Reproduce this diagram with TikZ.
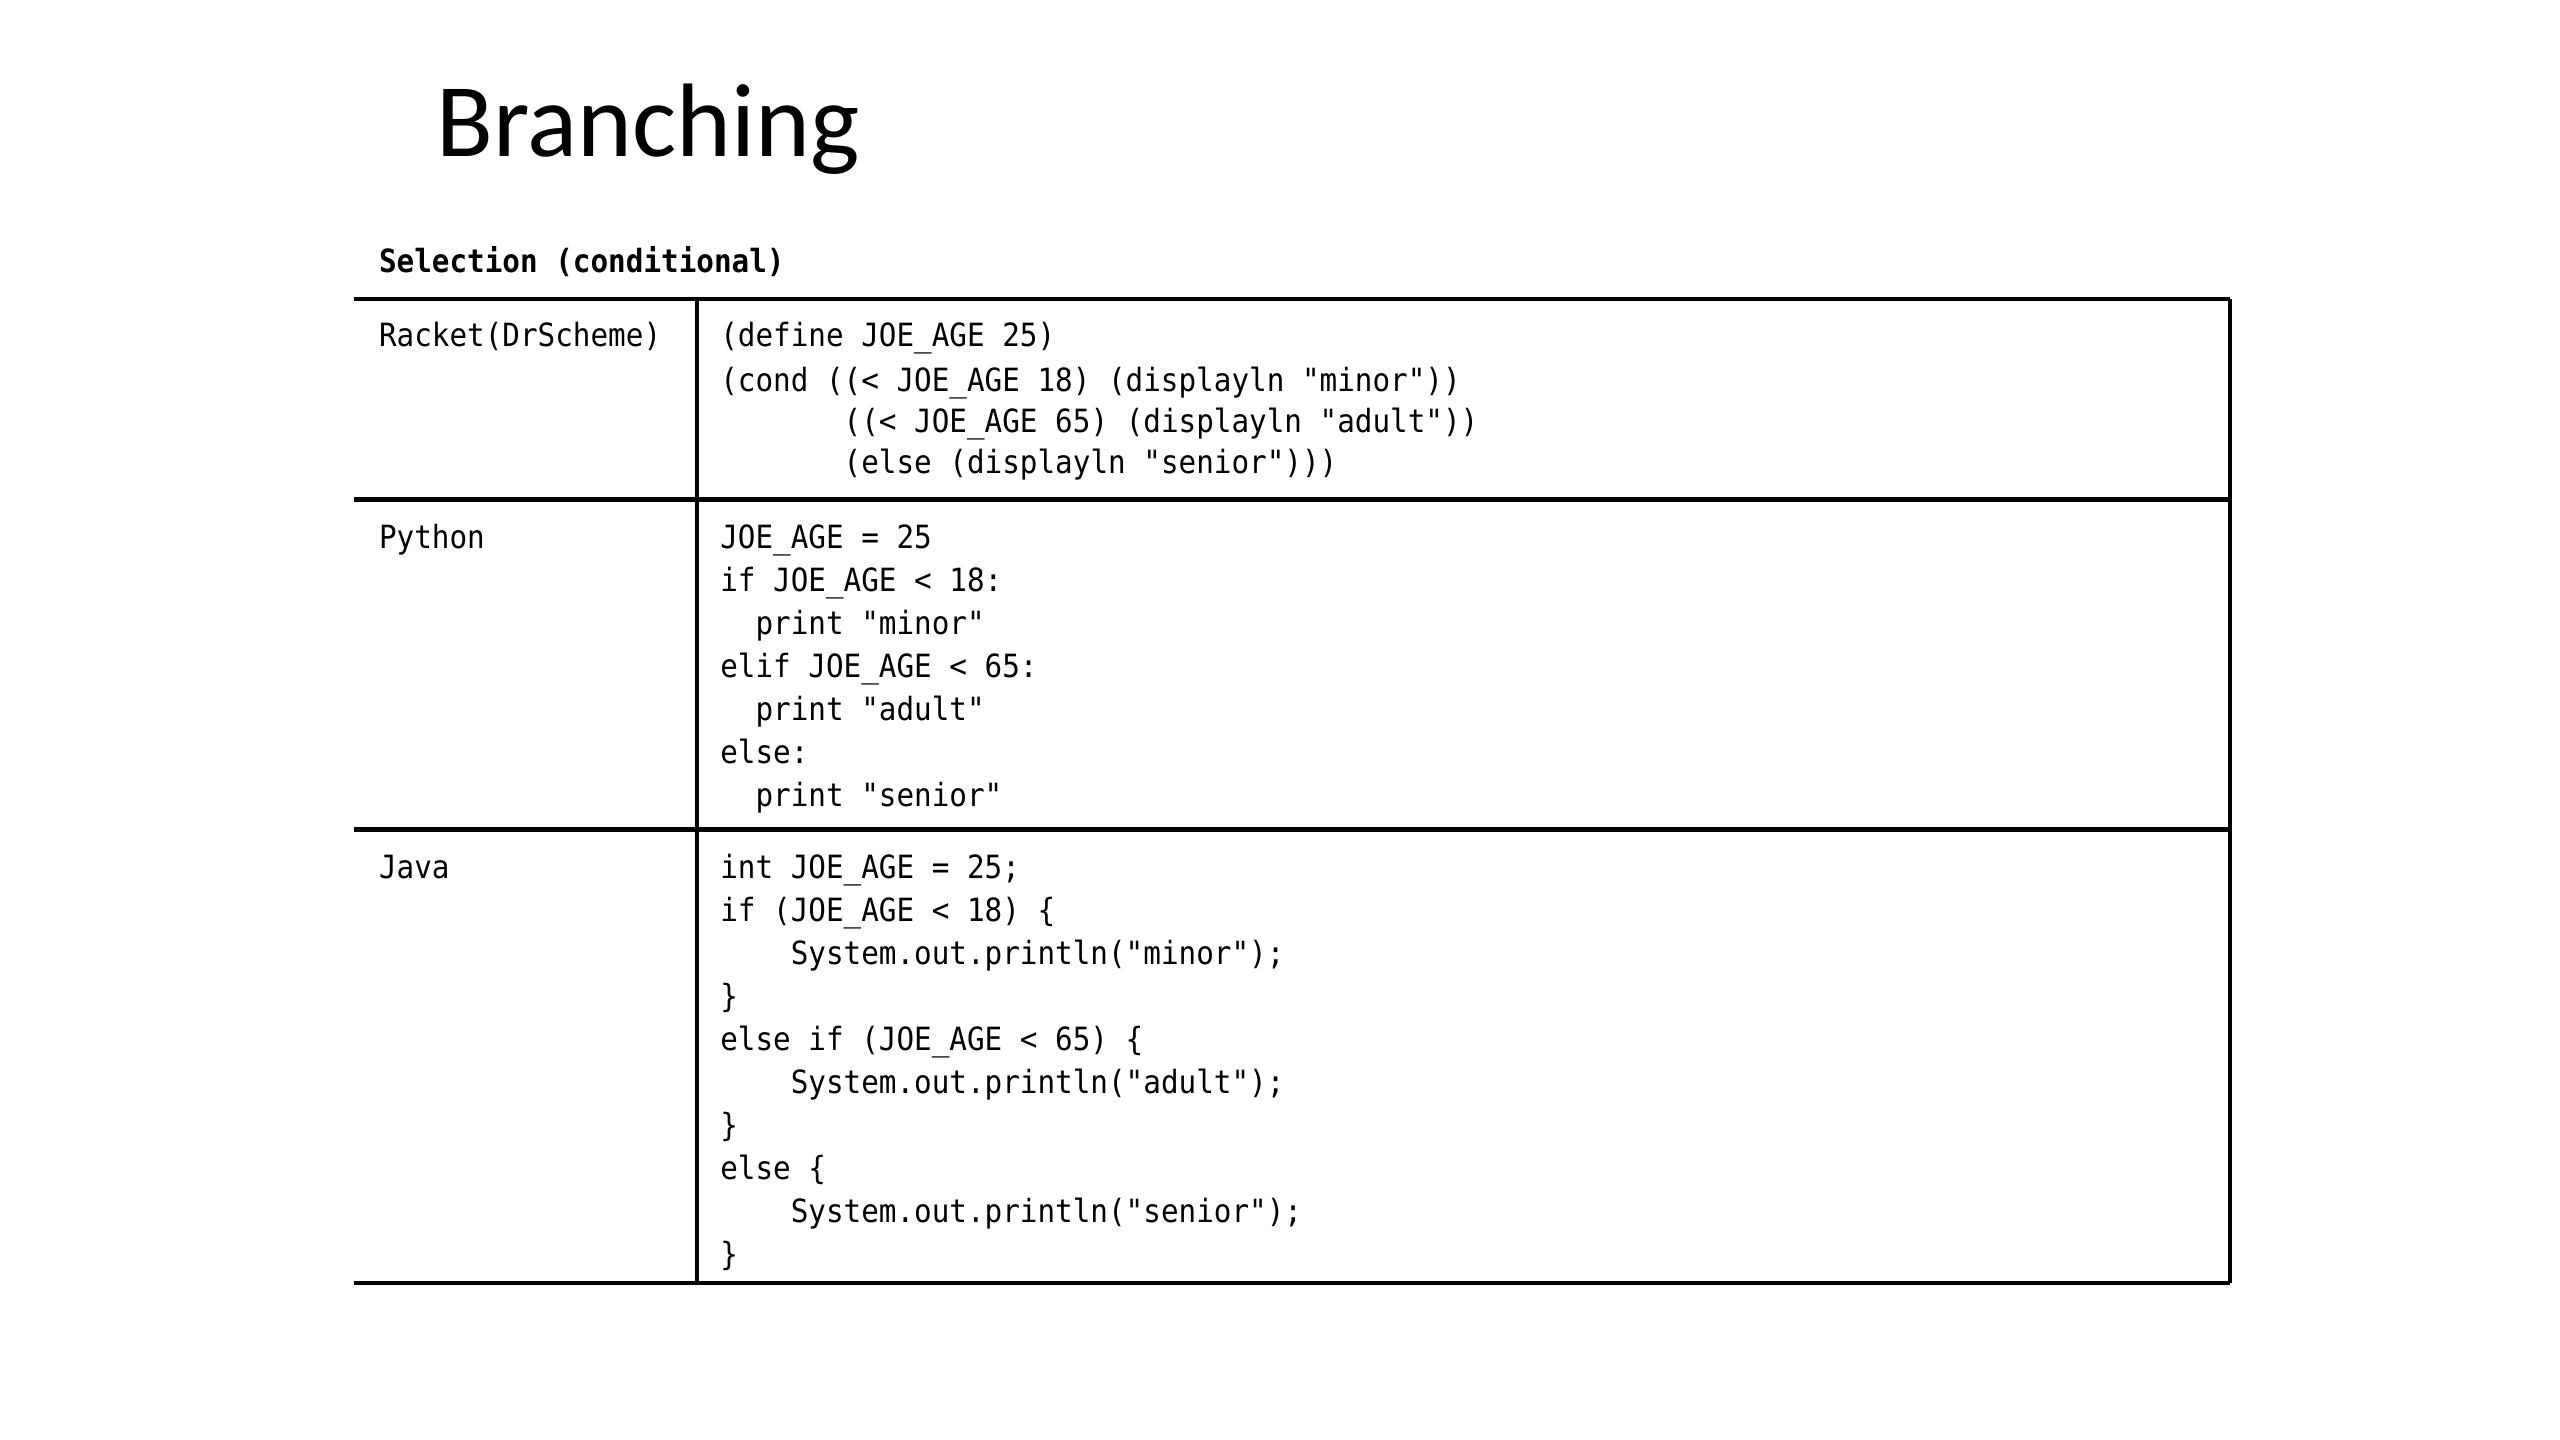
\documentclass[tikz,border=0pt]{standalone}
\usepackage{fontspec}
\newfontfamily\titlefont{Carlito}
\newfontfamily\codefont[FakeStretch=0.915]{DejaVu Sans Mono}

\tikzset{
  code/.style={anchor=base west, inner sep=0pt, font=\codefont\fontsize{19.6}{26}\selectfont},
  rule/.style={line width=2.6pt},
  vrule/.style={line width=2.2pt},
}

\begin{document}
\begin{tikzpicture}[x=1pt,y=-1pt]
		\useasboundingbox (0,0) rectangle (1568,882);
		
		% Title
		\node[anchor=base west, inner sep=0pt, font=\titlefont\fontsize{64}{70}\selectfont] (title) at (267,96) {Branching};
		\node[code] (caption) at (232,167) {\bfseries Selection (conditional)};
		
		% Table lines
		\draw[rule] (217,183) -- (1366,183);
		\draw[rule] (217,306) -- (1366,306);
		\draw[rule] (217,508) -- (1366,508);
		\draw[rule] (217,786) -- (1366,786);
		\draw[vrule] (427,183) -- (427,786);
		\draw[vrule] (1366,183) -- (1366,786);
		
		% Languages
		\node[code] (racket) at (232,212) {Racket(DrScheme)};
		\node[code] (python) at (232,336) {Python};
		\node[code] (java) at (232,538) {Java};
		
		% Racket code
		\foreach \y/\l [count=\i] in {212/{(define JOE\_AGE 25)},
				240/{(cond ((< JOE\_AGE 18) (displayln "minor"))},
				265/{\hphantom{0000000}((< JOE\_AGE 65) (displayln "adult"))},
				290/{\hphantom{0000000}(else (displayln "senior")))}}
			\node[code] (rk\i) at (441,\y) {\l};
		
		% Python code
		\foreach \l [count=\i] in {{JOE\_AGE = 25}, {if JOE\_AGE < 18:},
				{\hphantom{00}print "minor"}, {elif JOE\_AGE < 65:},
				{\hphantom{00}print "adult"}, {else:},
				{\hphantom{00}print "senior"}}
			\node[code] (py\i) at (441,{336+(\i-1)*26.33}) {\l};
		
		% Java code
		\foreach \l [count=\i] in {{int JOE\_AGE = 25;}, {if (JOE\_AGE < 18) \{},
				{\hphantom{0000}System.out.println("minor");}, {\}},
				{else if (JOE\_AGE < 65) \{},
				{\hphantom{0000}System.out.println("adult");}, {\}},
				{else \{},
				{\hphantom{0000}System.out.println("senior");}, {\}}}
			\node[code] (jv\i) at (441,{538+(\i-1)*26.33}) {\l};
		
\end{tikzpicture}
\end{document}
